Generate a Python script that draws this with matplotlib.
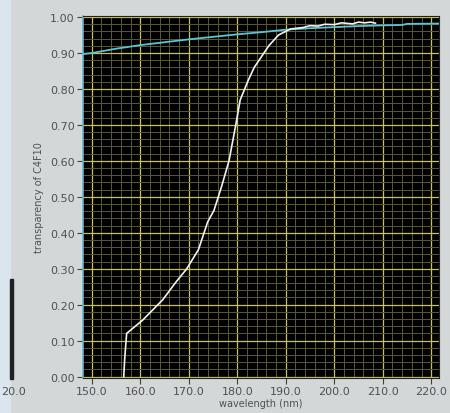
import numpy as np
import matplotlib
matplotlib.use("Agg")
import matplotlib.pyplot as plt
from matplotlib.ticker import MultipleLocator

# transparency of the C4F10 gas (white trace)
gas_wl = [156.6, 156.8, 157.2, 160.5, 164.6, 167.2, 169.6, 172.0, 173.9, 175.2,
          176.8, 178.3, 179.7, 180.6, 182.2, 183.5, 185.0, 186.5, 188.5, 191.0,
          193.6, 195.0, 196.7, 198.0, 200.0, 201.5, 203.8, 205.0, 206.3, 207.5, 208.5]
gas_tr = [0.0, 0.05, 0.12, 0.157, 0.213, 0.26, 0.30, 0.353, 0.43, 0.462,
          0.53, 0.60, 0.70, 0.769, 0.822, 0.86, 0.89, 0.92, 0.95, 0.967,
          0.971, 0.976, 0.975, 0.980, 0.979, 0.984, 0.981, 0.986, 0.984, 0.986, 0.983]

# reference trace (cyan), runs edge to edge
ref_wl = [148.2, 150.0, 155.0, 160.0, 165.0, 170.0, 175.0, 180.0, 185.0, 190.0,
          195.0, 200.0, 205.0, 210.0, 214.0, 215.0, 221.6]
ref_tr = [0.897, 0.900, 0.912, 0.922, 0.930, 0.938, 0.945, 0.952, 0.958, 0.965,
          0.969, 0.972, 0.975, 0.977, 0.978, 0.981, 0.982]

x_ticks = [150, 160, 170, 180, 190, 200, 210, 220]
y_ticks = [0.0, 0.1, 0.2, 0.3, 0.4, 0.5, 0.6, 0.7, 0.8, 0.9, 1.0]

fig = plt.figure(figsize=(4.5, 4.14), dpi=100)
fig.patch.set_facecolor("#d3d7d8")

# light strip on the far left and edge of the neighbouring panel
fig.patches.append(plt.Rectangle((0, 0), 10 / 450, 1, transform=fig.transFigure,
                                 color="#dbe5ee", zorder=0))
fig.patches.append(plt.Rectangle((10 / 450, 34 / 414), 3 / 450, 100 / 414,
                                 transform=fig.transFigure, color="#202020", zorder=1))
fig.text(1 / 450, 1 - 392 / 414, "20.0", fontsize=8, color="#505050", va="center")

ax = fig.add_axes([83 / 450, 1 - 379 / 414, 356 / 450, 362 / 414])
ax.set_facecolor("black")

ax.set_xlim(148.2, 221.6)
ax.set_ylim(-0.004, 1.003)
ax.set_xticks(x_ticks)
ax.set_xticklabels([f"{v:.1f}" for v in x_ticks])
ax.set_yticks(y_ticks)
ax.set_yticklabels([f"{v:.2f}" for v in y_ticks])
ax.xaxis.set_minor_locator(MultipleLocator(2))
ax.yaxis.set_minor_locator(MultipleLocator(0.02))

ax.grid(which="minor", color="#5a5836", lw=0.7)
ax.grid(which="major", color="#c8c064", lw=0.9)
ax.set_axisbelow(True)

ax.tick_params(which="major", direction="out", length=4, width=0.8,
               color="#404040", labelsize=8, labelcolor="#505050", pad=2)
ax.tick_params(which="minor", length=0)

for side in ["top", "right", "bottom"]:
    ax.spines[side].set_color("#202020")
ax.spines["left"].set_color("#6ab4d0")
ax.spines["left"].set_linewidth(1.2)

ax.plot(ref_wl, ref_tr, color="#5cc4d4", lw=1.3, zorder=3, clip_on=True)
ax.plot(gas_wl, gas_tr, color="#f2f2f2", lw=1.2, zorder=4)

ax.set_xlabel("wavelength (nm)", fontsize=7, color="#505050", labelpad=1)
ax.set_ylabel("transparency of C4F10", fontsize=7, color="#505050", labelpad=4)

fig.savefig("out.png", dpi=100, facecolor=fig.get_facecolor())
